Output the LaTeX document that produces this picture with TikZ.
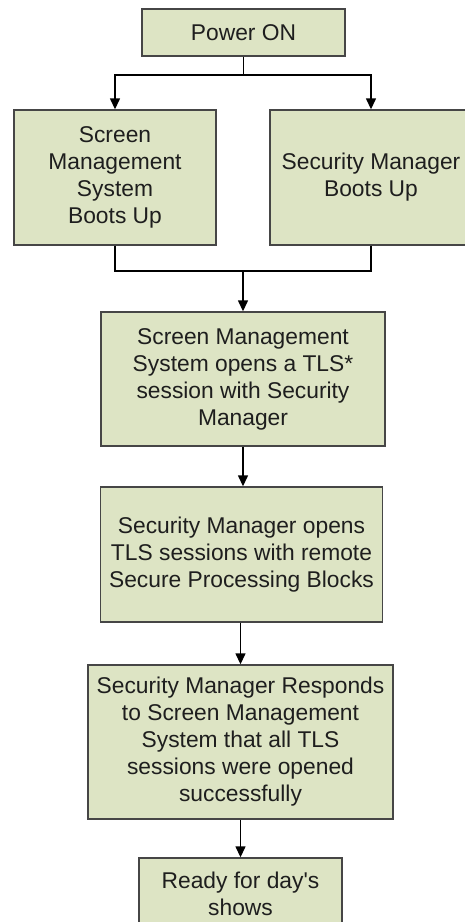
\documentclass[tikz,border=0pt]{standalone}
\usepackage{fontspec}
\setmainfont{Liberation Sans}
\usetikzlibrary{arrows.meta}
\definecolor{boxfill}{RGB}{221,228,196}
\definecolor{boxline}{RGB}{70,70,70}
\definecolor{txt}{RGB}{30,30,30}
\begin{document}
\begin{tikzpicture}[x=1pt,y=-1pt,
  flowbox/.style={draw=boxline,line width=1.4pt,fill=boxfill,inner sep=0pt,align=center,
    text=txt,font=\fontsize{22.8}{27}\selectfont},
  link/.style={draw=black,line width=1.4pt},
  arr/.style={link,-{Triangle[length=11pt,width=10pt]}}]
\useasboundingbox (0,0) rectangle (464,922);
\node[flowbox,minimum width=203pt,minimum height=47pt] (power) at (243.5,32.5) {Power ON};
\node[flowbox,minimum width=202pt,minimum height=135pt] (sms) at (115,177.5) {Screen\\Management\\System\\Boots Up};
\node[flowbox,minimum width=202pt,minimum height=135pt] (sm) at (371,177.5) {Security Manager\\Boots Up};
\node[flowbox,minimum width=284pt,minimum height=134pt] (tls1) at (243,379) {Screen Management\\System opens a TLS*\\session with Security\\Manager};
\node[flowbox,minimum width=282pt,minimum height=135pt] (tls2) at (241.5,554.5) {Security Manager opens\\TLS sessions with remote\\Secure Processing Blocks};
\node[flowbox,minimum width=305pt,minimum height=154pt] (resp) at (240.5,742) {Security Manager Responds\\to Screen Management\\System that all TLS\\sessions were opened\\successfully};
\node[flowbox,minimum width=203pt,minimum height=72pt] (ready) at (240.5,894) {Ready for day\textquotesingle s\\shows};
\coordinate (split) at (243.5,75);
\coordinate (merge) at (243,271);
\draw[link] (power.south) -- (split);
\draw[arr] (split) -| (sms.north);
\draw[arr] (split) -| (sm.north);
\draw[link] (sms.south) |- (merge);
\draw[link] (sm.south) |- (merge);
\draw[arr] (merge) -- (merge |- tls1.north);
\draw[arr] (tls1.south) -- (tls1.south |- tls2.north);
\draw[arr] (tls2.south -| resp.north) -- (resp.north);
\draw[arr] (resp.south) -- (ready.north);
\end{tikzpicture}
\end{document}
